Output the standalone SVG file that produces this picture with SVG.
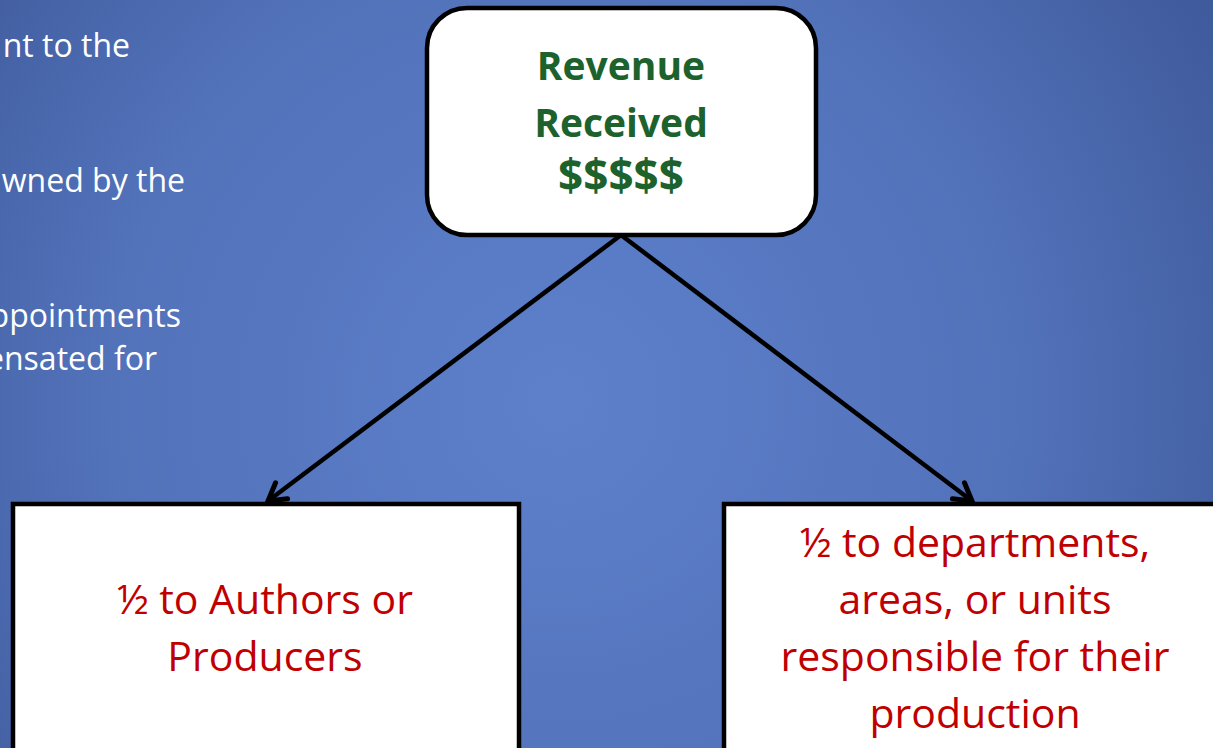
<svg xmlns="http://www.w3.org/2000/svg" width="1213" height="748" viewBox="0 0 1213 748">
  <defs>
    <radialGradient id="bg" cx="560" cy="400" r="820" gradientUnits="userSpaceOnUse">
      <stop offset="0" stop-color="#5E80CB"/>
      <stop offset="0.55" stop-color="#5272BA"/>
      <stop offset="1" stop-color="#3C5696"/>
    </radialGradient>
    <marker id="arr" markerUnits="userSpaceOnUse" viewBox="-20 -13 24 26" refX="0" refY="0" markerWidth="24" markerHeight="26" orient="auto" overflow="visible">
      <path d="M-17,-10 L0,0 L-17,10" fill="none" stroke="#000" stroke-width="5" stroke-linecap="round" stroke-linejoin="miter"/>
    </marker>
    <style>
      .side { font-family: "Open Sans", "Liberation Sans", sans-serif; font-size: 32px; fill: #FFFFFF; text-anchor: end; }
      .top { font-family: "Open Sans", "Liberation Sans", sans-serif; font-size: 39px; font-weight: bold; fill: #1D622D; text-anchor: middle; }
      .dollar { font-size: 44px; }
      .bot { font-family: "Open Sans", "Liberation Sans", sans-serif; font-size: 41px; fill: #C00000; text-anchor: middle; }
      .box { fill: #FFFFFF; stroke: #000000; stroke-width: 4.5; }
      .conn { stroke: #000000; stroke-width: 4.5; fill: none; marker-end: url(#arr); }
    </style>
  </defs>
  <rect x="0" y="0" width="1213" height="748" fill="url(#bg)"/>

  <g id="side-text">
    <text class="side" x="130" y="57">nt to the</text>
    <text class="side" x="185" y="192">wned by the</text>
    <text class="side" x="181" y="327">ppointments</text>
    <text class="side" x="157" y="370">ensated for</text>
  </g>

  <g id="connectors">
    <line class="conn" x1="621" y1="235" x2="268" y2="501"/>
    <line class="conn" x1="621" y1="235" x2="972" y2="501"/>
  </g>

  <g id="revenue">
    <rect class="box" x="427" y="8" width="389" height="227" rx="40" ry="40"/>
    <text class="top" x="621" y="80">Revenue</text>
    <text class="top" x="621" y="137">Received</text>
    <text class="top dollar" x="621" y="191">$$$$$</text>
  </g>

  <g id="authors">
    <rect class="box" x="13" y="504" width="506" height="270"/>
    <text class="bot" x="265" y="614">½ to Authors or</text>
    <text class="bot" x="265" y="671">Producers</text>
  </g>

  <g id="departments">
    <rect class="box" x="724" y="504" width="520" height="270"/>
    <text class="bot" x="975" y="557">½ to departments,</text>
    <text class="bot" x="975" y="614">areas, or units</text>
    <text class="bot" x="975" y="671">responsible for their</text>
    <text class="bot" x="975" y="728">production</text>
  </g>
</svg>
